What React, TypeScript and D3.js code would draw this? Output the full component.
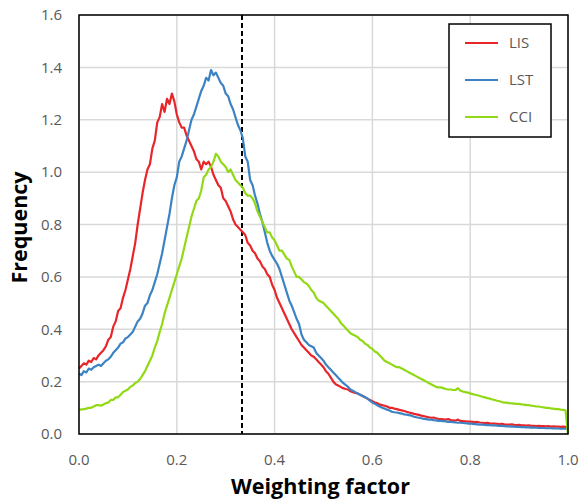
import React from "react";
import * as d3 from "d3";

// x sampled every 0.005 from 0 to 1 (201 points)
const LIS = [
  0.25, 0.26, 0.27, 0.265, 0.28, 0.275, 0.29, 0.285, 0.30, 0.31,
  0.32, 0.335, 0.36, 0.37, 0.41, 0.43, 0.47, 0.48, 0.52, 0.55,
  0.59, 0.63, 0.68, 0.73, 0.80, 0.86, 0.92, 0.97, 1.01, 1.03,
  1.09, 1.12, 1.19, 1.21, 1.26, 1.23, 1.28, 1.26, 1.30, 1.27,
  1.22, 1.19, 1.17, 1.17, 1.14, 1.12, 1.10, 1.08, 1.05, 1.04,
  1.01, 1.04, 1.03, 1.04, 1.02, 0.99, 0.97, 0.95, 0.94, 0.90,
  0.89, 0.87, 0.85, 0.82, 0.80, 0.79, 0.78, 0.77, 0.76, 0.73,
  0.72, 0.70, 0.69, 0.67, 0.66, 0.64, 0.63, 0.61, 0.60, 0.57,
  0.55, 0.52, 0.50, 0.48, 0.46, 0.44, 0.42, 0.40, 0.385, 0.37,
  0.355, 0.34, 0.33, 0.32, 0.31, 0.30, 0.295, 0.285, 0.275, 0.265,
  0.255, 0.24, 0.23, 0.215, 0.20, 0.19, 0.185, 0.18, 0.175, 0.172,
  0.17, 0.163, 0.16, 0.157, 0.155, 0.15, 0.145, 0.14, 0.135, 0.13,
  0.125, 0.12, 0.118, 0.112, 0.11, 0.108, 0.105, 0.10, 0.10, 0.097,
  0.095, 0.092, 0.09, 0.088, 0.085, 0.082, 0.08, 0.077, 0.075, 0.073,
  0.07, 0.068, 0.066, 0.064, 0.062, 0.063, 0.06, 0.058, 0.057, 0.056,
  0.055, 0.057, 0.053, 0.052, 0.051, 0.055, 0.05, 0.049, 0.048, 0.047,
  0.047, 0.046, 0.045, 0.046, 0.044, 0.043, 0.042, 0.043, 0.041, 0.04,
  0.04, 0.039, 0.038, 0.039, 0.037, 0.036, 0.036, 0.037, 0.035, 0.034,
  0.035, 0.033, 0.033, 0.032, 0.033, 0.031, 0.031, 0.03, 0.031, 0.03,
  0.03, 0.029, 0.03, 0.028, 0.029, 0.028, 0.028, 0.027, 0.028, 0.027,
  0.027,
];

const LST = [
  0.23, 0.225, 0.24, 0.235, 0.25, 0.245, 0.255, 0.26, 0.265, 0.26,
  0.27, 0.28, 0.285, 0.295, 0.31, 0.32, 0.33, 0.345, 0.35, 0.365,
  0.37, 0.38, 0.39, 0.41, 0.43, 0.44, 0.46, 0.49, 0.50, 0.53,
  0.55, 0.58, 0.61, 0.65, 0.69, 0.74, 0.79, 0.84, 0.90, 0.95,
  0.98, 1.04, 1.06, 1.09, 1.12, 1.16, 1.20, 1.22, 1.25, 1.28,
  1.31, 1.33, 1.36, 1.35, 1.39, 1.37, 1.38, 1.36, 1.34, 1.33,
  1.30, 1.29, 1.26, 1.24, 1.21, 1.18, 1.16, 1.13, 1.06, 1.04,
  0.97, 0.95, 0.91, 0.88, 0.84, 0.81, 0.77, 0.73, 0.70, 0.68,
  0.665, 0.65, 0.63, 0.60, 0.57, 0.54, 0.51, 0.49, 0.465, 0.44,
  0.42, 0.38, 0.36, 0.35, 0.34, 0.335, 0.33, 0.31, 0.30, 0.29,
  0.28, 0.265, 0.255, 0.245, 0.235, 0.225, 0.215, 0.205, 0.195, 0.188,
  0.18, 0.17, 0.165, 0.16, 0.155, 0.15, 0.145, 0.14, 0.135, 0.127,
  0.12, 0.115, 0.11, 0.105, 0.10, 0.097, 0.093, 0.09, 0.085, 0.083,
  0.082, 0.08, 0.078, 0.075, 0.074, 0.072, 0.07, 0.066, 0.064, 0.062,
  0.06, 0.058, 0.057, 0.055, 0.055, 0.053, 0.052, 0.05, 0.05, 0.049,
  0.048, 0.046, 0.046, 0.045, 0.044, 0.043, 0.043, 0.042, 0.041, 0.04,
  0.04, 0.039, 0.038, 0.037, 0.036, 0.036, 0.035, 0.034, 0.034, 0.033,
  0.033, 0.032, 0.031, 0.031, 0.03, 0.029, 0.029, 0.028, 0.028, 0.027,
  0.027, 0.026, 0.026, 0.025, 0.025, 0.024, 0.024, 0.024, 0.023, 0.023,
  0.023, 0.022, 0.022, 0.022, 0.021, 0.021, 0.021, 0.02, 0.02, 0.02,
  0.02,
];

const CCI = [
  0.092, 0.094, 0.095, 0.097, 0.10, 0.10, 0.105, 0.11, 0.11, 0.108,
  0.113, 0.118, 0.12, 0.13, 0.13, 0.14, 0.14, 0.15, 0.16, 0.165,
  0.17, 0.18, 0.185, 0.195, 0.20, 0.21, 0.225, 0.24, 0.26, 0.28,
  0.30, 0.33, 0.355, 0.39, 0.42, 0.46, 0.49, 0.52, 0.55, 0.58,
  0.61, 0.64, 0.67, 0.71, 0.75, 0.79, 0.83, 0.86, 0.89, 0.90,
  0.93, 0.98, 0.99, 1.01, 1.02, 1.04, 1.07, 1.06, 1.04, 1.03,
  1.02, 1.00, 1.01, 0.99, 0.97, 0.96, 0.95, 0.94, 0.92, 0.91,
  0.91, 0.90, 0.88, 0.85, 0.83, 0.81, 0.79, 0.77, 0.77, 0.75,
  0.74, 0.72, 0.70, 0.70, 0.685, 0.67, 0.665, 0.64, 0.62, 0.60,
  0.60, 0.59, 0.58, 0.575, 0.565, 0.55, 0.54, 0.52, 0.51, 0.505,
  0.50, 0.49, 0.48, 0.47, 0.46, 0.45, 0.44, 0.425, 0.415, 0.405,
  0.395, 0.385, 0.38, 0.375, 0.37, 0.36, 0.355, 0.345, 0.34, 0.33,
  0.325, 0.315, 0.31, 0.30, 0.29, 0.28, 0.275, 0.27, 0.265, 0.26,
  0.255, 0.255, 0.25, 0.245, 0.24, 0.235, 0.23, 0.225, 0.22, 0.215,
  0.21, 0.205, 0.20, 0.195, 0.19, 0.185, 0.18, 0.178, 0.178, 0.175,
  0.172, 0.17, 0.17, 0.168, 0.168, 0.175, 0.165, 0.162, 0.16, 0.158,
  0.155, 0.152, 0.15, 0.148, 0.145, 0.142, 0.14, 0.137, 0.135, 0.132,
  0.13, 0.127, 0.125, 0.122, 0.12, 0.12, 0.118, 0.117, 0.116, 0.115,
  0.115, 0.113, 0.112, 0.11, 0.11, 0.108, 0.107, 0.105, 0.105, 0.103,
  0.102, 0.10, 0.10, 0.098, 0.097, 0.095, 0.095, 0.093, 0.092, 0.09,
  0.0,
];

const SERIES_NAMES = ["LIS", "LST", "CCI"];
const SERIES_COLORS = ["#E8262A", "#3C83C3", "#92D915"];
const X_TICKS = [0, 0.2, 0.4, 0.6, 0.8, 1.0];
const Y_TICKS = [0, 0.2, 0.4, 0.6, 0.8, 1.0, 1.2, 1.4, 1.6];
const THRESHOLD = 1 / 3;
const X_TITLE = "Weighting factor";
const Y_TITLE = "Frequency";

const W = 581;
const H = 501;
const M = { left: 79, right: 13, top: 15, bottom: 67 };

export default function App() {
  const x = d3.scaleLinear().domain([0, 1]).range([M.left, W - M.right]);
  const y = d3.scaleLinear().domain([0, 1.6]).range([H - M.bottom, M.top]);
  const all = [LIS, LST, CCI];
  const line = d3
    .line<number>()
    .x((_, i) => x(i / (LIS.length - 1)))
    .y((d) => y(d));
  const font = "'Open Sans', 'Liberation Sans', sans-serif";
  const tickColor = "#595959";
  const legendX = 449;
  const legendY = 24;
  return (
    <svg
      width={W}
      height={H}
      style={{ position: "absolute", left: 0, top: 0, background: "#fff" }}
      fontFamily={font}
    >
      {/* grid */}
      {Y_TICKS.map((t) => (
        <line key={"gy" + t} x1={x(0)} x2={x(1)} y1={y(t)} y2={y(t)} stroke="#d9d9d9" strokeWidth={1.5} />
      ))}
      {X_TICKS.map((t) => (
        <line key={"gx" + t} x1={x(t)} x2={x(t)} y1={y(0)} y2={y(1.6)} stroke="#d9d9d9" strokeWidth={1.5} />
      ))}
      {/* threshold */}
      <line
        x1={x(THRESHOLD)}
        x2={x(THRESHOLD)}
        y1={y(1.6)}
        y2={y(0)}
        stroke="#000"
        strokeWidth={2}
        strokeDasharray="5,3"
      />
      {/* series */}
      {all.map((s, i) => (
        <path key={SERIES_NAMES[i]} d={line(s) || ""} fill="none" stroke={SERIES_COLORS[i]} strokeWidth={2.2} strokeLinejoin="round" />
      ))}
      {/* frame */}
      <rect x={x(0)} y={y(1.6)} width={x(1) - x(0)} height={y(0) - y(1.6)} fill="none" stroke="#000" strokeWidth={1.5} />
      {/* y ticks */}
      {Y_TICKS.map((t) => (
        <text key={"ty" + t} x={x(0) - 17} y={y(t)} dy="0.35em" textAnchor="end" fontSize={15} fill={tickColor}>
          {t.toFixed(1)}
        </text>
      ))}
      {X_TICKS.map((t) => (
        <text key={"tx" + t} x={x(t)} y={y(0) + 31} textAnchor="middle" fontSize={15} fill={tickColor}>
          {t.toFixed(1)}
        </text>
      ))}
      <text x={(x(0) + x(1)) / 2 - 3} y={494} textAnchor="middle" fontSize={21.5} fontWeight="bold" fill="#000">
        {X_TITLE}
      </text>
      <text
        transform={`translate(27,${(y(0) + y(1.6)) / 2 + 3}) rotate(-90)`}
        textAnchor="middle"
        fontSize={21.5}
        fontWeight="bold"
        fill="#000"
      >
        {Y_TITLE}
      </text>
      {/* legend */}
      <rect x={legendX} y={legendY} width={102} height={113} fill="#fff" stroke="#000" strokeWidth={1.5} />
      {SERIES_NAMES.map((n, i) => (
        <g key={"lg" + n}>
          <line x1={legendX + 16} x2={legendX + 49} y1={legendY + 19 + i * 37} y2={legendY + 19 + i * 37} stroke={SERIES_COLORS[i]} strokeWidth={2.2} />
          <text x={legendX + 60} y={legendY + 19 + i * 37} dy="0.35em" fontSize={15} fill={tickColor}>
            {n}
          </text>
        </g>
      ))}
    </svg>
  );
}
